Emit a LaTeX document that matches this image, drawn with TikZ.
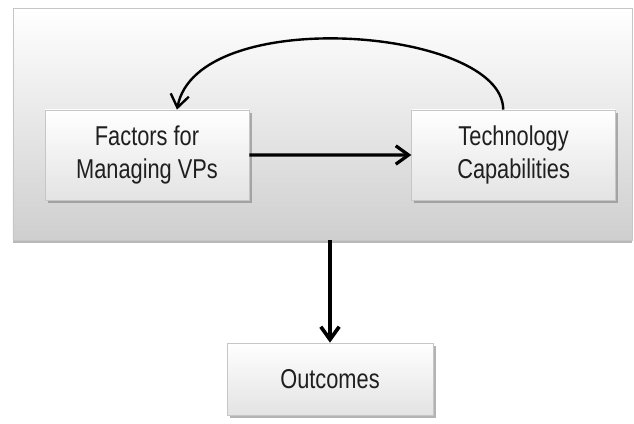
\documentclass[tikz,border=0pt]{standalone}
\usepackage{fontspec}
\setmainfont{Liberation Sans}
\usetikzlibrary{arrows.meta,shadows}

\begin{document}
\begin{tikzpicture}[
  factor/.style={draw=gray!45, top color=white, bottom color=gray!22,
    yscale=1.25, transform shape,
    minimum width=5.1cm, minimum height=1.8cm, align=center,
    text=black!88, font=\fontsize{15.5}{18.3}\selectfont,
    drop shadow={shadow xshift=2pt, shadow yshift=-1.8pt, opacity=0.6}},
  link/.style={line width=2.3pt, -{Straight Barb[length=3.2mm,width=4.6mm]}}
]
\useasboundingbox (0,0) rectangle (15.85,10.6);
% shaded frame round the two factors
\node[draw=gray!45, top color=white, bottom color=gray!38,
      minimum width=15.475cm, minimum height=5.8cm,
      drop shadow={shadow xshift=0pt, shadow yshift=-1.8pt, opacity=0.55}]
      (frame) at (8.0625,7.5) {};
\node[factor] (factors) at (3.675,6.725) {Factors for\\Managing VPs};
\node[factor] (tech) at (12.84,6.725) {Technology\\Capabilities};
\node[factor, minimum width=5.15cm, minimum height=1.44cm] (outcomes) at (8.25,1.125) {Outcomes};
\draw[link] (factors) -- (tech);
\draw[link, line width=1.7pt] ([xshift=-0.26cm]tech.north)
      .. controls +(0,2.05) and +(0.5,2.65) .. ([xshift=0.75cm]factors.north);
\draw[link, line width=2.6pt] (frame.south -| outcomes.north) -- (outcomes.north);
\end{tikzpicture}
\end{document}
